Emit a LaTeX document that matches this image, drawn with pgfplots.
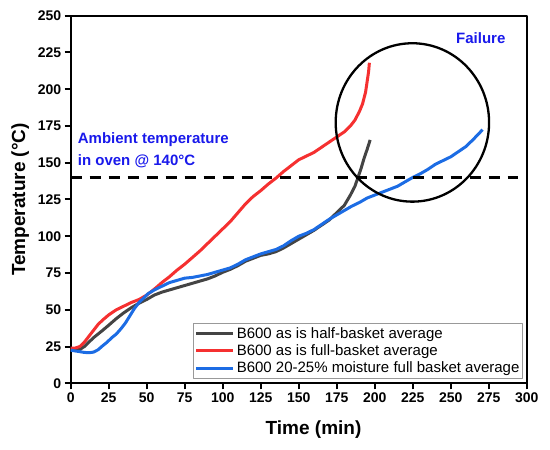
\documentclass[border=0pt]{standalone}
\usepackage{fontspec}
\setmainfont{Liberation Sans}
\usepackage{pgfplots}
\usepackage{pgfplotstable}
\pgfplotsset{compat=1.18}
\definecolor{cgray}{RGB}{68,68,68}
\definecolor{cred}{RGB}{245,48,48}
\definecolor{cblue}{RGB}{28,108,228}
\definecolor{annblue}{RGB}{25,25,235}

\pgfplotstableread{
t T
0 24
3 24
6 25
9 28
12 32
15 36
18 40
21 43
25 46.5
30 50
35 52.5
40 55
45 57
50 60
55 64
60 68.5
65 72.5
70 77
75 81
80 85.5
85 90
90 95
95 100
100 105
105 110
110 116
115 122
120 127
125 131
130 135.5
135 139.5
140 144
145 148
150 152
155 154.5
160 157
165 160.5
170 164
175 167.5
180 171
184 175
187 179
190 185
192 190
194 198
195 205
196 212
196.5 218
}\redtab

\pgfplotstableread{
t T
0 22.5
3 22.5
6 23
9 25
12 28
15 31
18 33.5
21 36
25 39.5
30 44
35 48
40 51.5
45 54.5
50 57
55 60
60 62
65 63.5
70 65
75 66.5
80 68
85 69.5
90 71
95 73
100 75.5
105 77.5
110 80
115 83
120 85
125 87
130 88
135 89.5
140 92
145 95
150 98
155 101
160 104
165 107.5
170 111
175 116
180 121
184 128
187 134
189 140
191 146
193 153
195 159
197 165.5
}\graytab

\pgfplotstableread{
t T
0 22.5
3 22
6 21.5
9 21
12 20.8
15 21.2
18 22.8
21 25.5
24 28
27 31
30 33.5
33 37
36 41
39 46
42 51
45 55
48 58
51 61
55 63.5
60 66
65 68.5
70 70
75 71.5
80 72
85 73
90 74
95 75.5
100 77
105 78.5
110 81
115 84
120 86
125 88
130 89.5
135 91
140 93.5
145 97
150 100
155 102
160 104.5
165 108
170 111.5
175 114.5
180 117.5
185 120.5
190 123
195 126
200 128
205 130
210 132
215 134
220 137
225 140
230 142.5
235 145.5
240 149
245 151.5
250 154
255 157.5
260 161
265 166
271 172.5
}\bluetab

\begin{document}
\begin{tikzpicture}
\useasboundingbox (-70.7pt,-66.7pt) rectangle (479.3pt,383.3pt);
\begin{axis}[
  at={(0pt,0pt)}, anchor=south west,
  scale only axis, width=456pt, height=367.6pt,
  xmin=0, xmax=300, ymin=0, ymax=250,
  xtick={0,25,...,300}, ytick={0,25,...,250},
  xtick pos=bottom, ytick pos=left,
  tick align=outside, major tick length=6pt,
  axis line style={line width=2pt},
  every tick/.style={black, line width=2pt},
  /pgf/number format/assume math mode=true,
  ticklabel style={font=\fontsize{14}{16}\selectfont\bfseries},
  xlabel={Time (min)},
  ylabel={Temperature (°C)},
  label style={font=\fontsize{19}{22}\selectfont\bfseries},
  xlabel style={at={(rel axis cs:0.5325,-0.1406)}, anchor=base},
  ylabel style={at={(rel axis cs:-0.1002,0.5)}, anchor=base},
  legend style={at={(rel axis cs:0.992,0.012)}, anchor=south east,
    draw=gray!80, line width=1.2pt, font=\fontsize{15}{17}\selectfont,
    row sep=1pt, inner xsep=1pt, inner ysep=2pt},
  legend cell align=left,
  legend image code/.code={\draw[#1, line width=3pt] (0pt,0pt) -- (37pt,0pt);},
  line join=round,
]
\addplot[cgray, line width=3pt] table[x=t,y=T]{\graytab};
\addlegendentry{B600 as is half-basket average}
\addplot[cred, line width=3pt] table[x=t,y=T]{\redtab};
\addlegendentry{B600 as is full-basket average}
\addplot[cblue, line width=3pt] table[x=t,y=T]{\bluetab};
\addlegendentry{B600 20-25\% moisture full basket average}
\addplot[black, line width=2.3pt, dash pattern=on 11pt off 8pt, forget plot] coordinates {(0,140) (294.3,140)};
\draw[black, line width=2.3pt] (axis cs:224.8,177.4) ellipse [x radius=76.7pt, y radius=79.2pt];
\node[anchor=base west, text=annblue, font=\fontsize{15}{18}\selectfont\bfseries, inner sep=0pt] at (axis cs:4.6,163.3) {Ambient temperature};
\node[anchor=base west, text=annblue, font=\fontsize{15}{18}\selectfont\bfseries, inner sep=0pt] at (axis cs:4.6,148) {in oven @ 140°C};
\node[anchor=base west, text=annblue, font=\fontsize{15}{18}\selectfont\bfseries, inner sep=0pt] at (axis cs:253.5,231.3) {Failure};
\end{axis}
\end{tikzpicture}
\end{document}
